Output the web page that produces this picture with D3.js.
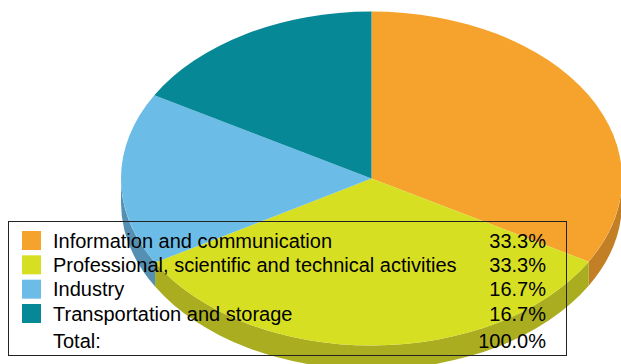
<!DOCTYPE html>
<html>
<head>
<meta charset="utf-8">
<script src="https://cdn.jsdelivr.net/npm/d3@7/dist/d3.min.js"></script>
<style>
  html, body { margin: 0; padding: 0; background: #fff; }
  svg { display: block; }
  text { font-family: "Liberation Sans", Arial, sans-serif; font-size: 20px; fill: #000; }
</style>
</head>
<body>
<div id="chart"></div>
<script>
var categories = ["Information and communication", "Professional, scientific and technical activities", "Industry", "Transportation and storage"];
var values = [33.3, 33.3, 16.7, 16.7];
var valueLabels = ["33.3%", "33.3%", "16.7%", "16.7%"];
var totalLabel = "Total:";
var totalValue = "100.0%";
var colors = ["#f5a32c", "#d7df23", "#6cbce8", "#068896"];
var sideColors = ["#c27f25", "#aaad1f", "#5590b2", "#056b76"];

var w = 621, h = 364;
var cx = 371.5, cy = 178.5, rx = 250.5, ry = 167, depth = 24;

var svg = d3.select("#chart").append("svg").attr("width", w).attr("height", h);

var pie = d3.pie().sort(null).value(function (d) { return d; });
var slices = pie(values);

// Point on the rim, angle measured clockwise from the top
function rim(a, dy) {
  return [cx + rx * Math.sin(a), cy - ry * Math.cos(a) + dy];
}

// Wall below the front half of the rim only
function wall(d) {
  var a0 = Math.max(d.startAngle, Math.PI / 2);
  var a1 = Math.min(d.endAngle, 3 * Math.PI / 2);
  if (a1 <= a0) return "";
  var p0 = rim(a0, 0), p1 = rim(a1, 0), q1 = rim(a1, depth), q0 = rim(a0, depth);
  return "M" + p0 + "A" + rx + " " + ry + " 0 0 1 " + p1 +
    "L" + q1 + "A" + rx + " " + ry + " 0 0 0 " + q0 + "Z";
}

svg.append("g").selectAll("path").data(slices).enter().append("path")
  .attr("d", wall)
  .style("fill", function (d, i) { return sideColors[i]; });

var arc = d3.arc().innerRadius(0).outerRadius(rx);
svg.append("g")
  .attr("transform", "translate(" + cx + "," + cy + ") scale(1," + (ry / rx) + ")")
  .selectAll("path").data(slices).enter().append("path")
  .attr("d", arc)
  .style("fill", function (d, i) { return colors[i]; });

// Legend
var legend = svg.append("g");
legend.append("rect")
  .attr("x", 8.5).attr("y", 221.5).attr("width", 558).attr("height", 134)
  .style("fill", "none").style("stroke", "#222").style("stroke-width", 1);

var rowY = d3.scalePoint().domain(d3.range(categories.length)).range([240.5, 313.5]);

var rows = legend.selectAll("g.row").data(categories).enter().append("g").attr("class", "row");
rows.append("rect")
  .attr("x", 22).attr("width", 19).attr("height", 19)
  .attr("y", function (d, i) { return rowY(i) - 9.5; })
  .style("fill", function (d, i) { return colors[i]; });
rows.append("text")
  .attr("x", 53)
  .attr("y", function (d, i) { return rowY(i) + 7; })
  .text(function (d) { return d; });
rows.append("text")
  .attr("x", 546).attr("text-anchor", "end")
  .attr("y", function (d, i) { return rowY(i) + 7; })
  .text(function (d, i) { return valueLabels[i]; });

legend.append("text").attr("x", 53).attr("y", 348).text(totalLabel);
legend.append("text").attr("x", 546).attr("y", 348).attr("text-anchor", "end").text(totalValue);
</script>
</body>
</html>
